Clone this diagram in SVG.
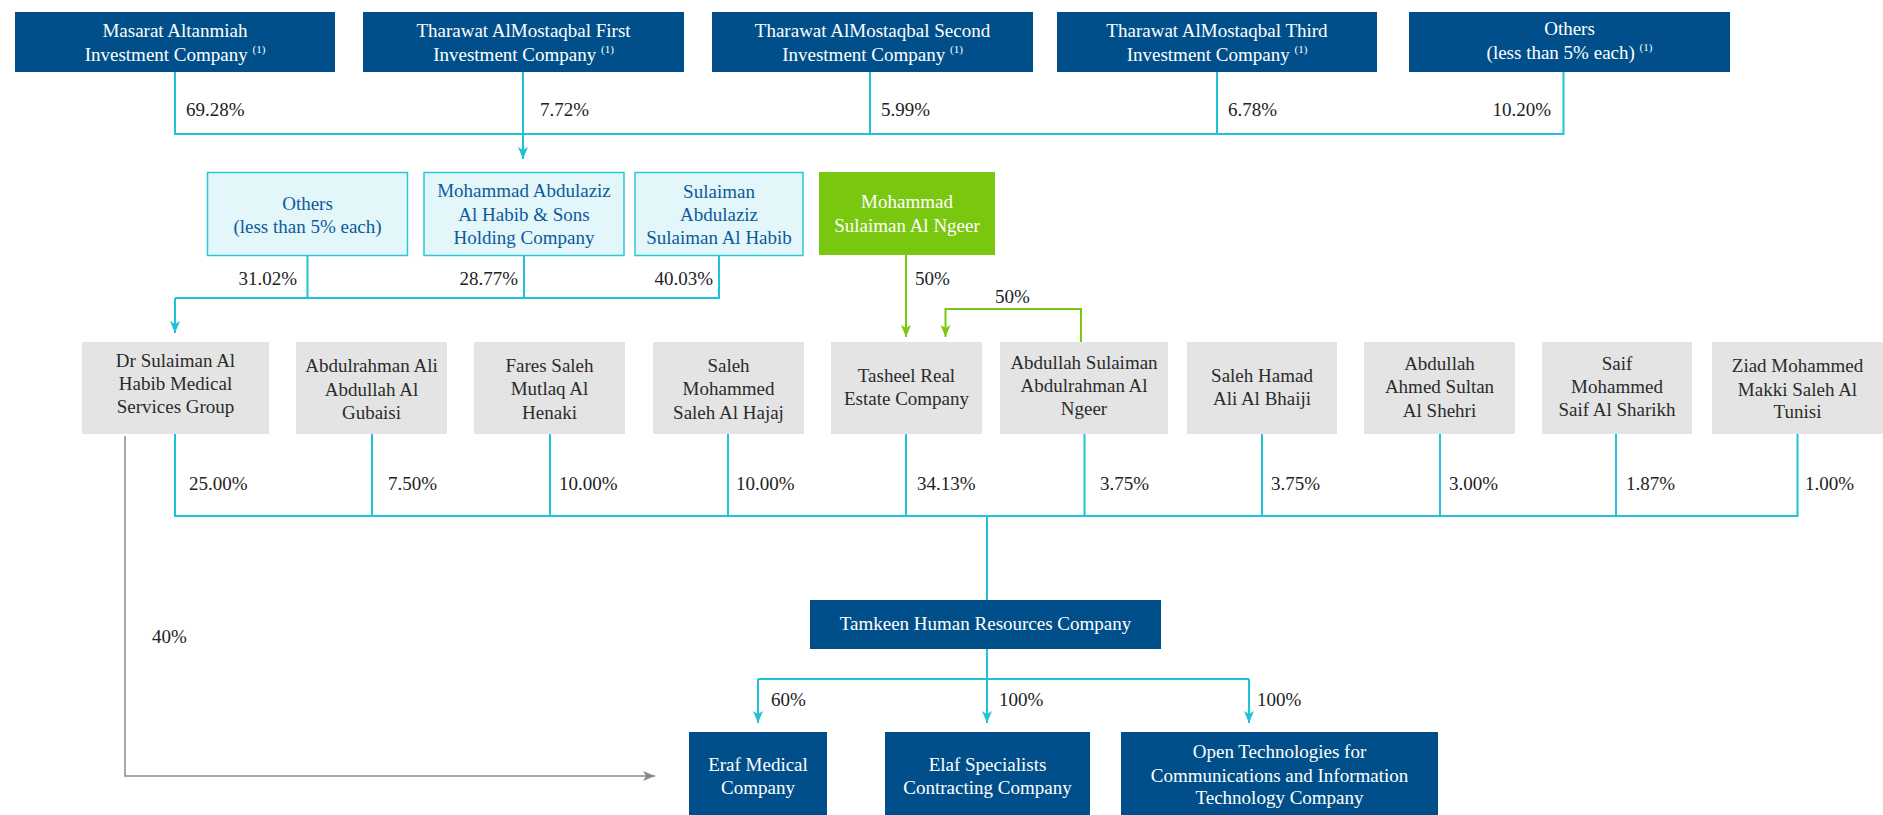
<svg xmlns="http://www.w3.org/2000/svg" width="1883" height="815" viewBox="0 0 1883 815" font-family="'Liberation Serif', 'Times New Roman', 'DejaVu Serif', serif">
<defs>
<style>
text{font-family:'Liberation Serif','Times New Roman','DejaVu Serif',serif;font-size:19px;}
.db{fill:#004f8a;}
.lc{fill:#e3f6fa;stroke:#2cc6da;stroke-width:1.5;}
.gn{fill:#7ac70f;}
.gy{fill:#e4e4e4;}
.tw{fill:#ffffff;text-anchor:middle;}
.tb{fill:#0d5a9a;text-anchor:middle;}
.tg{fill:#2b2b2b;text-anchor:middle;}
.pc{fill:#222222;}
.pe{fill:#222222;text-anchor:end;}
.sup{font-size:11px;}
.cy{fill:none;stroke:#1fc2da;stroke-width:2;}
.gr{fill:none;stroke:#7ac70f;stroke-width:2;}
.gl{fill:none;stroke:#8a8a8a;stroke-width:1.5;}
</style>
<marker id="ac" viewBox="0 0 12 10" refX="12" refY="5" markerWidth="12" markerHeight="10" orient="auto" markerUnits="userSpaceOnUse"><path d="M0,0 L12,5 L0,10 L3,5 z" fill="#1fc2da"/></marker>
<marker id="ag" viewBox="0 0 12 10" refX="12" refY="5" markerWidth="12" markerHeight="10" orient="auto" markerUnits="userSpaceOnUse"><path d="M0,0 L12,5 L0,10 L3,5 z" fill="#7ac70f"/></marker>
<marker id="agr" viewBox="0 0 12 10" refX="12" refY="5" markerWidth="12" markerHeight="10" orient="auto" markerUnits="userSpaceOnUse"><path d="M0,0 L12,5 L0,10 L3,5 z" fill="#8a8a8a"/></marker>
</defs>
<rect width="1883" height="815" fill="#ffffff"/>

<g id="connectors">
<path class="cy" d="M175,72 V134 H1563.5 V72 M523,72 V134 M870,72 V134 M1217,72 V134"/>
<path class="cy" d="M523,134 V159" marker-end="url(#ac)"/>
<path class="cy" d="M307.5,256 V298 M524,256 V298 M719,256 V298 H175"/>
<path class="cy" d="M175,298 V333" marker-end="url(#ac)"/>
<path class="gr" d="M906,255 V337" marker-end="url(#ag)"/>
<path class="gr" d="M1081,342 V309 H945.5 V337" marker-end="url(#ag)"/>
<path class="cy" d="M175,434 V516 H1797.5 V434 M372,434 V516 M550,434 V516 M728,434 V516 M906,434 V516 M1084.5,434 V516 M1262,434 V516 M1440,434 V516 M1616,434 V516 M987,516 V600"/>
<path class="cy" d="M987,649 V679 M758,679 H1249"/>
<path class="cy" d="M758,679 V723" marker-end="url(#ac)"/>
<path class="cy" d="M987,679 V723" marker-end="url(#ac)"/>
<path class="cy" d="M1249,679 V723" marker-end="url(#ac)"/>
<path class="gl" d="M125,436 V776 H655" marker-end="url(#agr)"/>
<text class="pc" x="186" y="116">69.28%</text>
<text class="pc" x="540" y="116">7.72%</text>
<text class="pc" x="881" y="116">5.99%</text>
<text class="pc" x="1228" y="116">6.78%</text>
<text class="pe" x="1551" y="116">10.20%</text>
<text class="pe" x="297" y="285">31.02%</text>
<text class="pe" x="518" y="285">28.77%</text>
<text class="pe" x="713" y="285">40.03%</text>
<text class="pc" x="915" y="285">50%</text>
<text class="pc" x="995" y="303">50%</text>
<text class="pc" x="189" y="490">25.00%</text>
<text class="pc" x="388" y="490">7.50%</text>
<text class="pc" x="559" y="490">10.00%</text>
<text class="pc" x="736" y="490">10.00%</text>
<text class="pc" x="917" y="490">34.13%</text>
<text class="pc" x="1100" y="490">3.75%</text>
<text class="pc" x="1271" y="490">3.75%</text>
<text class="pc" x="1449" y="490">3.00%</text>
<text class="pc" x="1626" y="490">1.87%</text>
<text class="pc" x="1805" y="490">1.00%</text>
<text class="pc" x="152" y="643">40%</text>
<text class="pc" x="771" y="706">60%</text>
<text class="pc" x="999" y="706">100%</text>
<text class="pc" x="1257" y="706">100%</text>
</g>

<g id="masarat">
<rect class="db" x="15" y="12" width="320" height="60"/>
<text class="tw" x="175" y="37">Masarat Altanmiah</text>
<text class="tw" x="175" y="61">Investment Company <tspan class="sup" dy="-8">(1)</tspan></text>
</g>
<g id="tharawat-first">
<rect class="db" x="363" y="12" width="321" height="60"/>
<text class="tw" x="523.5" y="37">Tharawat AlMostaqbal First</text>
<text class="tw" x="523.5" y="61">Investment Company <tspan class="sup" dy="-8">(1)</tspan></text>
</g>
<g id="tharawat-second">
<rect class="db" x="712" y="12" width="321" height="60"/>
<text class="tw" x="872.5" y="37">Tharawat AlMostaqbal Second</text>
<text class="tw" x="872.5" y="61">Investment Company <tspan class="sup" dy="-8">(1)</tspan></text>
</g>
<g id="tharawat-third">
<rect class="db" x="1057" y="12" width="320" height="60"/>
<text class="tw" x="1217" y="37">Tharawat AlMostaqbal Third</text>
<text class="tw" x="1217" y="61">Investment Company <tspan class="sup" dy="-8">(1)</tspan></text>
</g>
<g id="others-top">
<rect class="db" x="1409" y="12" width="321" height="60"/>
<text class="tw" x="1569.5" y="35">Others</text>
<text class="tw" x="1569.5" y="59">(less than 5% each) <tspan class="sup" dy="-8">(1)</tspan></text>
</g>

<g id="others-mid">
<rect class="lc" x="207.5" y="172.5" width="200" height="83"/>
<text class="tb" x="307.5" y="210">Others</text>
<text class="tb" x="307.5" y="233">(less than 5% each)</text>
</g>
<g id="mohammad-abdulaziz">
<rect class="lc" x="424" y="172.5" width="200" height="83"/>
<text class="tb" x="524" y="197">Mohammad Abdulaziz</text>
<text class="tb" x="524" y="220.5">Al Habib &amp; Sons</text>
<text class="tb" x="524" y="243.5">Holding Company</text>
</g>
<g id="sulaiman-abdulaziz">
<rect class="lc" x="635" y="172.5" width="168" height="83"/>
<text class="tb" x="719" y="198">Sulaiman</text>
<text class="tb" x="719" y="221">Abdulaziz</text>
<text class="tb" x="719" y="244">Sulaiman Al Habib</text>
</g>
<g id="mohammad-ngeer">
<rect class="gn" x="819" y="172" width="176" height="83"/>
<text class="tw" x="907" y="208">Mohammad</text>
<text class="tw" x="907" y="231.5">Sulaiman Al Ngeer</text>
</g>

<g id="dr-sulaiman">
<rect class="gy" x="82" y="342" width="187" height="92"/>
<text class="tg" x="175.5" y="367">Dr Sulaiman Al</text>
<text class="tg" x="175.5" y="390">Habib Medical</text>
<text class="tg" x="175.5" y="413">Services Group</text>
</g>
<g id="abdulrahman">
<rect class="gy" x="296" y="342" width="151" height="92"/>
<text class="tg" x="371.5" y="372">Abdulrahman Ali</text>
<text class="tg" x="371.5" y="395.5">Abdullah Al</text>
<text class="tg" x="371.5" y="419">Gubaisi</text>
</g>
<g id="fares">
<rect class="gy" x="474" y="342" width="151" height="92"/>
<text class="tg" x="549.5" y="372">Fares Saleh</text>
<text class="tg" x="549.5" y="395">Mutlaq Al</text>
<text class="tg" x="549.5" y="418.5">Henaki</text>
</g>
<g id="saleh-mohammed">
<rect class="gy" x="653" y="342" width="151" height="92"/>
<text class="tg" x="728.5" y="372">Saleh</text>
<text class="tg" x="728.5" y="395">Mohammed</text>
<text class="tg" x="728.5" y="418.5">Saleh Al Hajaj</text>
</g>
<g id="tasheel">
<rect class="gy" x="831" y="342" width="151" height="92"/>
<text class="tg" x="906.5" y="382">Tasheel Real</text>
<text class="tg" x="906.5" y="404.5">Estate Company</text>
</g>
<g id="abdullah-sulaiman">
<rect class="gy" x="1000" y="342" width="168" height="92"/>
<text class="tg" x="1084" y="368.5">Abdullah Sulaiman</text>
<text class="tg" x="1084" y="392">Abdulrahman Al</text>
<text class="tg" x="1084" y="415">Ngeer</text>
</g>
<g id="saleh-hamad">
<rect class="gy" x="1187" y="342" width="150" height="92"/>
<text class="tg" x="1262" y="382">Saleh Hamad</text>
<text class="tg" x="1262" y="404.5">Ali Al Bhaiji</text>
</g>
<g id="abdullah-ahmed">
<rect class="gy" x="1364" y="342" width="151" height="92"/>
<text class="tg" x="1439.5" y="370">Abdullah</text>
<text class="tg" x="1439.5" y="393">Ahmed Sultan</text>
<text class="tg" x="1439.5" y="416.5">Al Shehri</text>
</g>
<g id="saif">
<rect class="gy" x="1542" y="342" width="150" height="92"/>
<text class="tg" x="1617" y="369.5">Saif</text>
<text class="tg" x="1617" y="393">Mohammed</text>
<text class="tg" x="1617" y="416">Saif Al Sharikh</text>
</g>
<g id="ziad">
<rect class="gy" x="1712" y="342" width="171" height="92"/>
<text class="tg" x="1797.5" y="371.5">Ziad Mohammed</text>
<text class="tg" x="1797.5" y="395.5">Makki Saleh Al</text>
<text class="tg" x="1797.5" y="418">Tunisi</text>
</g>

<g id="tamkeen">
<rect class="db" x="810" y="600" width="351" height="49"/>
<text class="tw" x="985.5" y="630">Tamkeen Human Resources Company</text>
</g>
<g id="eraf">
<rect class="db" x="689" y="732" width="138" height="83"/>
<text class="tw" x="758" y="770.5">Eraf Medical</text>
<text class="tw" x="758" y="793.5">Company</text>
</g>
<g id="elaf">
<rect class="db" x="885" y="732" width="205" height="83"/>
<text class="tw" x="987.5" y="770.5">Elaf Specialists</text>
<text class="tw" x="987.5" y="793.5">Contracting Company</text>
</g>
<g id="open-tech">
<rect class="db" x="1121" y="732" width="317" height="83"/>
<text class="tw" x="1279.5" y="757.5">Open Technologies for</text>
<text class="tw" x="1279.5" y="781.5">Communications and Information</text>
<text class="tw" x="1279.5" y="804">Technology Company</text>
</g>
</svg>
